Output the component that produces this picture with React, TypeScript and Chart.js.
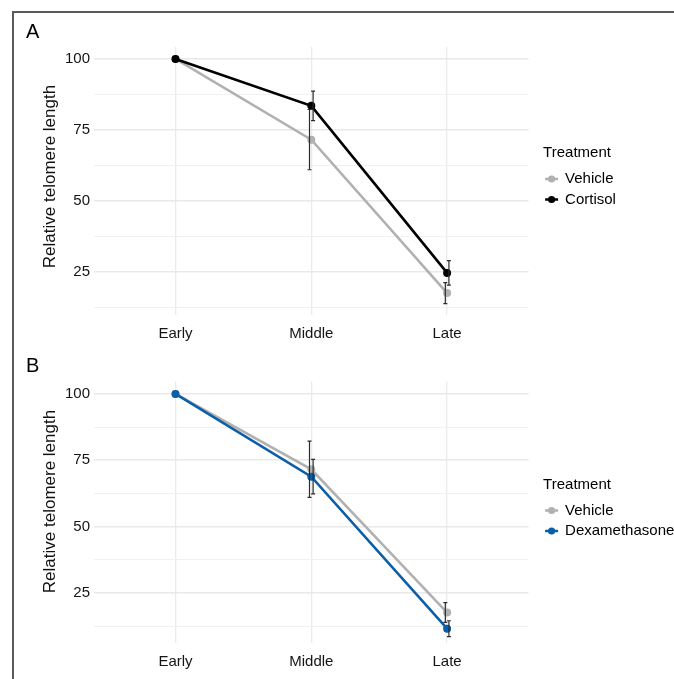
import React, { useEffect, useRef } from 'react';
import { Chart, registerables } from 'chart.js';

Chart.register(...registerables);

const categories = ['Early', 'Middle', 'Late'];
const majorTicks = [25, 50, 75, 100];
const minorTicks = [12.5, 37.5, 62.5, 87.5];

const vehicleMean = [100, 71.6, 17.6];
const vehicleErr = [0, 10.6, 3.7];
const cortisolMean = [100, 83.5, 24.7];
const cortisolErr = [0, 5.2, 4.3];
const dexMean = [100, 68.8, 11.5];
const dexErr = [0, 6.5, 3.0];

const FONT = '"Liberation Sans", Arial, Helvetica, sans-serif';
const GRAY = '#b1b1b1';

type PanelProps = {
  top: number;
  height: number;
  letter: string;
  treatment: string;
  mean: number[];
  err: number[];
  color: string;
  yMin: number;
  yMax: number;
  padTop: number;
  xHeight: number;
  titleShift: number;
};

function makePlugin(p: PanelProps) {
  return {
    id: 'panelExtras' + p.letter,
    afterDatasetsDraw(chart: any) {
      const ctx = chart.ctx;
      const ys = chart.scales.y;
      const dodge = [-1.8, 1.8];
      chart.data.datasets.forEach((ds: any, i: number) => {
        const meta = chart.getDatasetMeta(i);
        ds.data.forEach((pt: any, j: number) => {
          const e = ds.errors[j];
          if (!e) return;
          const x = meta.data[j].x + dodge[i];
          const y1 = ys.getPixelForValue(pt.y + e);
          const y2 = ys.getPixelForValue(pt.y - e);
          ctx.save();
          ctx.strokeStyle = '#2b2b2b';
          ctx.lineWidth = 1.2;
          ctx.beginPath();
          ctx.moveTo(x, y1);
          ctx.lineTo(x, y2);
          ctx.moveTo(x - 2, y1);
          ctx.lineTo(x + 2, y1);
          ctx.moveTo(x - 2, y2);
          ctx.lineTo(x + 2, y2);
          ctx.stroke();
          ctx.restore();
        });
      });
    },
    afterDraw(chart: any) {
      const ctx = chart.ctx;
      const area = chart.chartArea;
      ctx.save();
      // panel letter
      ctx.fillStyle = '#000';
      ctx.font = `20px ${FONT}`;
      ctx.textAlign = 'left';
      ctx.textBaseline = 'middle';
      ctx.fillText(p.letter, 26, area.top - 15);
      // y axis title
      ctx.save();
      ctx.translate(50, (area.top + area.bottom) / 2 + p.titleShift);
      ctx.rotate(-Math.PI / 2);
      ctx.textAlign = 'center';
      ctx.textBaseline = 'middle';
      ctx.font = `17px ${FONT}`;
      ctx.fillStyle = '#111';
      ctx.fillText('Relative telomere length', 0, 0);
      ctx.restore();
      // legend
      const lx = area.right + 14.5;
      const ty = (area.top + area.bottom) / 2 - 28;
      ctx.font = `15px ${FONT}`;
      ctx.fillStyle = '#000';
      ctx.textAlign = 'left';
      ctx.textBaseline = 'middle';
      ctx.fillText('Treatment', lx, ty);
      chart.data.datasets.forEach((ds: any, i: number) => {
        const iy = ty + 26 + i * 20.5;
        const sx = lx + 2;
        ctx.strokeStyle = ds.borderColor;
        ctx.lineWidth = 2.5;
        ctx.beginPath();
        ctx.moveTo(sx, iy);
        ctx.lineTo(sx + 13, iy);
        ctx.stroke();
        ctx.fillStyle = ds.borderColor;
        ctx.beginPath();
        ctx.arc(sx + 6.5, iy, 3.6, 0, Math.PI * 2);
        ctx.fill();
        ctx.fillStyle = '#000';
        ctx.fillText(ds.label, lx + 22, iy);
      });
      ctx.restore();
    },
  };
}

function Panel(p: PanelProps) {
  const ref = useRef<HTMLCanvasElement | null>(null);
  useEffect(() => {
    if (!ref.current) return;
    const toPts = (arr: number[]) => arr.map((v, i) => ({ x: i, y: v }));
    const chart = new Chart(ref.current, {
      type: 'line',
      data: {
        datasets: [
          {
            label: 'Vehicle',
            data: toPts(vehicleMean),
            errors: vehicleErr,
            borderColor: GRAY,
            backgroundColor: GRAY,
            borderWidth: 2.6,
            pointRadius: 4,
            pointHoverRadius: 4,
            pointBorderWidth: 0,
            order: 1,
          } as any,
          {
            label: p.treatment,
            data: toPts(p.mean),
            errors: p.err,
            borderColor: p.color,
            backgroundColor: p.color,
            borderWidth: 2.6,
            pointRadius: 4,
            pointHoverRadius: 4,
            pointBorderWidth: 0,
            order: 0,
          } as any,
        ],
      },
      options: {
        animation: false,
        responsive: false,
        maintainAspectRatio: false,
        layout: { padding: { left: 0, right: 145.4, top: p.padTop, bottom: 0 } },
        plugins: { legend: { display: false }, tooltip: { enabled: false }, title: { display: false } },
        scales: {
          x: {
            type: 'linear',
            min: -0.6,
            max: 2.6,
            border: { display: false },
            grid: { color: '#ebebeb', lineWidth: 1.3, drawTicks: false },
            afterBuildTicks: (s: any) => {
              s.ticks = categories.map((_, i) => ({ value: i }));
            },
            afterFit: (s: any) => {
              s.height = p.xHeight;
            },
            ticks: {
              padding: 10,
              color: '#141414',
              font: { family: FONT, size: 15 },
              callback: (v: any) => categories[v] ?? '',
              maxRotation: 0,
              autoSkip: false,
            },
          },
          y: {
            type: 'linear',
            min: p.yMin,
            max: p.yMax,
            border: { display: false },
            grid: {
              color: (c: any) => (majorTicks.includes(c.tick?.value) ? '#e9e9e9' : '#f1f1f1'),
              lineWidth: (c: any) => (majorTicks.includes(c.tick?.value) ? 1.6 : 1),
              drawTicks: false,
            },
            afterBuildTicks: (s: any) => {
              s.ticks = [...minorTicks, ...majorTicks].sort((a, b) => a - b).map((v) => ({ value: v }));
            },
            afterFit: (s: any) => {
              s.width = 94;
            },
            ticks: {
              padding: 4,
              color: '#141414',
              font: { family: FONT, size: 15 },
              autoSkip: false,
              callback: (v: any) => (majorTicks.includes(v) ? String(v) : ''),
            },
          },
        },
      },
      plugins: [makePlugin(p)],
    });
    return () => chart.destroy();
  }, []);
  return (
    <canvas
      ref={ref}
      width={674}
      height={p.height}
      style={{ position: 'absolute', left: 0, top: p.top, width: 674, height: p.height }}
    />
  );
}

export default function App() {
  return (
    <div style={{ position: 'absolute', left: 0, top: 0, width: 674, height: 679, background: '#fff', overflow: 'hidden' }}>
      <Panel
        top={0}
        height={345}
        letter="A"
        treatment="Cortisol"
        mean={cortisolMean}
        err={cortisolErr}
        color="#000000"
        yMin={9.9}
        yMax={104.2}
        padTop={47}
        xHeight={30}
        titleShift={-4.5}
      />
      <Panel
        top={345}
        height={334}
        letter="B"
        treatment="Dexamethasone"
        mean={dexMean}
        err={dexErr}
        color="#0b5ea8"
        yMin={6.0}
        yMax={104.6}
        padTop={36.7}
        xHeight={35.7}
        titleShift={-11}
      />
      <div
        style={{
          position: 'absolute',
          left: 12,
          top: 11,
          width: 680,
          height: 690,
          borderTop: '2px solid #5a5a5a',
          borderLeft: '2px solid #5a5a5a',
          pointerEvents: 'none',
        }}
      />
    </div>
  );
}
